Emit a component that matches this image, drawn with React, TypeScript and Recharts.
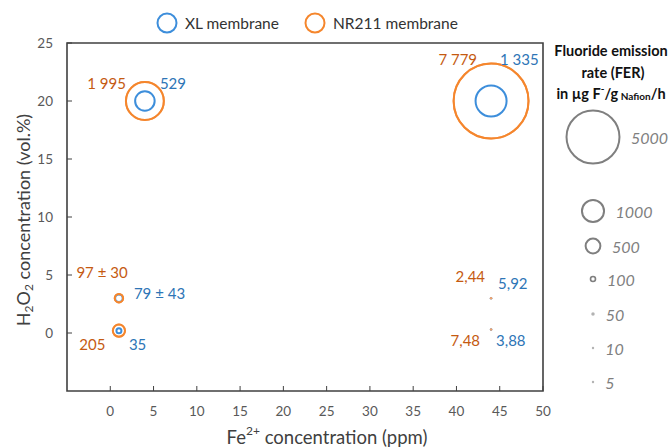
import React from 'react';
import { ScatterChart, Scatter, XAxis, YAxis, ZAxis, ReferenceArea } from 'recharts';

// ---------- data ----------
const xlFe = [4, 44, 1, 1, 44, 44];
const xlH2O2 = [20, 20, 3, 0.2, 3, 0.3];
const xlFer = [529, 1335, 79, 35, 5.92, 3.88];
const xlLabels = ['529', '1 335', '79 ± 43', '35', '5,92', '3,88'];

const nrFe = [4, 44, 1, 1, 44, 44];
const nrH2O2 = [20, 20, 3, 0.2, 3, 0.3];
const nrFer = [1995, 7779, 97, 205, 2.44, 7.48];
const nrLabels = ['1 995', '7 779', '97 ± 30', '205', '2,44', '7,48'];

const xTicks = [0, 5, 10, 15, 20, 25, 30, 35, 40, 45, 50];
const yTicks = [0, 5, 10, 15, 20, 25];
const xDomain = [-5, 50];
const yDomain = [-5, 25];
const ferDomain = [0, 7800];

const seriesNames = ['XL membrane', 'NR211 membrane'];
const ferLegendValues = [5000, 1000, 500, 100, 50, 10, 5];
const ferLegendLabels = ['5000', '1000', '500', '100', '50', '10', '5'];

// ---------- styles ----------
const FONT = 'Lato, "Open Sans", sans-serif';
const BLUE = '#3d8edb';
const ORANGE = '#f5862c';
const BLUE_TEXT = '#2e75b6';
const ORANGE_TEXT = '#c55a11';
const AXIS = '#404040';
const TICK_TEXT = '#595959';
const LEGEND_GREY = '#7f7f7f';
const MAX_AREA = Math.PI * 37.5 * 37.5;

type Pos = { dx: number; dy: number; anchor: 'start' | 'end' | 'middle' };
const xlLabelPos: Pos[] = [
  { dx: 15, dy: -18, anchor: 'start' },
  { dx: 9, dy: -42, anchor: 'start' },
  { dx: 15, dy: -5, anchor: 'start' },
  { dx: 10, dy: 13.5, anchor: 'start' },
  { dx: 7, dy: -15.5, anchor: 'start' },
  { dx: 5, dy: 10.5, anchor: 'start' },
];
const nrLabelPos: Pos[] = [
  { dx: -19, dy: -18, anchor: 'end' },
  { dx: -14, dy: -42, anchor: 'end' },
  { dx: -42.5, dy: -26.5, anchor: 'start' },
  { dx: -13.5, dy: 13.5, anchor: 'end' },
  { dx: -6, dy: -22, anchor: 'end' },
  { dx: -11, dy: 10.5, anchor: 'end' },
];

const legendCircleX = [167, 315];
const legendRowsY = [137, 211, 246, 279, 314, 348, 382];
const legendCx = 593;

const buildRows = (fe: number[], h: number[], fer: number[], labels: string[]) =>
  fe.map((x, i) => ({ fe: x, h2o2: h[i], fer: fer[i], label: labels[i], idx: i }));

const xlData = buildRows(xlFe, xlH2O2, xlFer, xlLabels);
const nrData = buildRows(nrFe, nrH2O2, nrFer, nrLabels);

const makeBubble = (color: string) => (p: any) => {
  const { cx, cy } = p;
  if (cx == null || cy == null) return <g />;
  const r = p.width != null ? p.width / 2 : Math.sqrt(Math.max(p.size || 0, 0) / Math.PI);
  if (r < 1.6) return <circle cx={cx} cy={cy} r={1.25} fill={color} />;
  return <circle cx={cx} cy={cy} r={r} fill="none" stroke={color} strokeWidth={2} />;
};

const makeLabel = (color: string, pos: Pos[]) => (p: any) => {
  const { cx, cy, payload } = p;
  if (cx == null || cy == null || !payload) return <g />;
  const o = pos[payload.idx];
  return (
    <text
      x={cx + o.dx}
      y={cy + o.dy}
      textAnchor={o.anchor}
      dominantBaseline="central"
      fill={color}
      fontSize={15}
      fontFamily={FONT}
    >
      {payload.label}
    </text>
  );
};

const XTitle = (props: any) => {
  const vb = props.viewBox || { x: 67, y: 391, width: 476, height: 40 };
  const cx = vb.x + vb.width / 2 + 22;
  const cy = vb.y + 46;
  return (
    <text x={cx} y={cy} textAnchor="middle" dominantBaseline="central" fill={AXIS} fontSize={18.5} fontFamily={FONT}>
      Fe
      <tspan fontSize={12} dy={-7}>2+</tspan>
      <tspan dy={7}> concentration (ppm)</tspan>
    </text>
  );
};

const YTitle = (props: any) => {
  const vb = props.viewBox || { x: 20, y: 43, width: 47, height: 348 };
  const cx = vb.x + 3;
  const cy = vb.y + vb.height / 2 + 3;
  return (
    <text
      x={cx}
      y={cy}
      transform={`rotate(-90 ${cx} ${cy})`}
      textAnchor="middle"
      dominantBaseline="central"
      fill={AXIS}
      fontSize={18}
      fontFamily={FONT}
    >
      H<tspan fontSize={12} dy={4.5}>2</tspan>
      <tspan dy={-4.5}>O</tspan>
      <tspan fontSize={12} dy={4.5}>2</tspan>
      <tspan dy={-4.5}> concentration (vol.%)</tspan>
    </text>
  );
};

const legendRadius = (v: number) => Math.max(0.8, 0.395 * Math.sqrt(v) - 1.45);

export default function App() {
  return (
    <div style={{ position: 'absolute', left: 0, top: 0, width: 671, height: 447, background: '#fff', fontFamily: FONT }}>
      <ScatterChart width={671} height={447} margin={{ top: 43, right: 128, bottom: 16, left: 20 }} style={{ fontFamily: FONT }}>
        <XAxis
          type="number"
          dataKey="fe"
          domain={xDomain}
          ticks={xTicks}
          interval={0}
          allowDataOverflow
          axisLine={false}
          tickSize={-5}
          tickMargin={20}
          tickLine={{ stroke: AXIS }}
          tick={{ fill: TICK_TEXT, fontSize: 13.5, fontFamily: FONT }}
          height={40}
          label={XTitle}
        />
        <YAxis
          type="number"
          dataKey="h2o2"
          domain={yDomain}
          ticks={yTicks}
          interval={0}
          allowDataOverflow
          axisLine={false}
          tickSize={-5}
          tickMargin={19}
          tickLine={{ stroke: AXIS }}
          tick={{ fill: TICK_TEXT, fontSize: 13.5, fontFamily: FONT }}
          width={47}
          label={YTitle}
        />
        <ZAxis type="number" dataKey="fer" domain={ferDomain} range={[0, MAX_AREA]} />
        <ReferenceArea x1={xDomain[0]} x2={xDomain[1]} y1={yDomain[0]} y2={yDomain[1]} fill="none" stroke={AXIS} strokeWidth={1.6} />
        <Scatter name={seriesNames[0]} data={xlData} shape={makeBubble(BLUE)} isAnimationActive={false} />
        <Scatter name={seriesNames[1]} data={nrData} shape={makeBubble('#f3a36a')} isAnimationActive={false} />
        <Scatter data={nrData} shape={(p: any) => {
          const r = p.width != null ? p.width / 2 : 0;
          return r < 1.6 ? <g /> : makeBubble(ORANGE)(p);
        }} isAnimationActive={false} />
        <Scatter data={xlData} shape={makeLabel(BLUE_TEXT, xlLabelPos)} isAnimationActive={false} />
        <Scatter data={nrData} shape={makeLabel(ORANGE_TEXT, nrLabelPos)} isAnimationActive={false} />
      </ScatterChart>
      <svg width={671} height={447} style={{ position: 'absolute', left: 0, top: 0, pointerEvents: 'none' }}>
        {seriesNames.map((name, i) => (
          <g key={name}>
            <circle cx={legendCircleX[i]} cy={23} r={9.5} fill="none" stroke={i === 0 ? BLUE : ORANGE} strokeWidth={2} />
            <text x={legendCircleX[i] + 18} y={23} dominantBaseline="central" fontSize={15.5} fill="#333" fontFamily={FONT}>
              {name}
            </text>
          </g>
        ))}
        <g fontFamily={FONT} fontWeight={700} fontSize={14.5} fill="#111" textAnchor="middle">
          <text x={611} y={50} dominantBaseline="central">Fluoride emission</text>
          <text x={613} y={72} dominantBaseline="central">rate (FER)</text>
          <text x={611} y={93} dominantBaseline="central">
            in µg F<tspan fontSize={10} dy={-5}>-</tspan>
            <tspan dy={5}>/g</tspan>
            <tspan fontSize={10} dy={3}> Nafion</tspan>
            <tspan dy={-3}>/h</tspan>
          </text>
        </g>
        {ferLegendValues.map((v, i) => {
          const r = legendRadius(v);
          return (
            <g key={v}>
              {r < 1.6 ? (
                <circle cx={legendCx} cy={legendRowsY[i]} r={r + 0.4} fill={LEGEND_GREY} fillOpacity={0.6} />
              ) : (
                <circle cx={legendCx} cy={legendRowsY[i]} r={r} fill="none" stroke={LEGEND_GREY} strokeWidth={r > 5 ? 2 : 1.6} />
              )}
              <text
                x={legendCx + r + 11.5}
                y={legendRowsY[i]}
                dominantBaseline="central"
                fontStyle="italic"
                fontSize={16}
                fill={LEGEND_GREY}
                fontFamily={FONT}
              >
                {ferLegendLabels[i]}
              </text>
            </g>
          );
        })}
      </svg>
    </div>
  );
}
